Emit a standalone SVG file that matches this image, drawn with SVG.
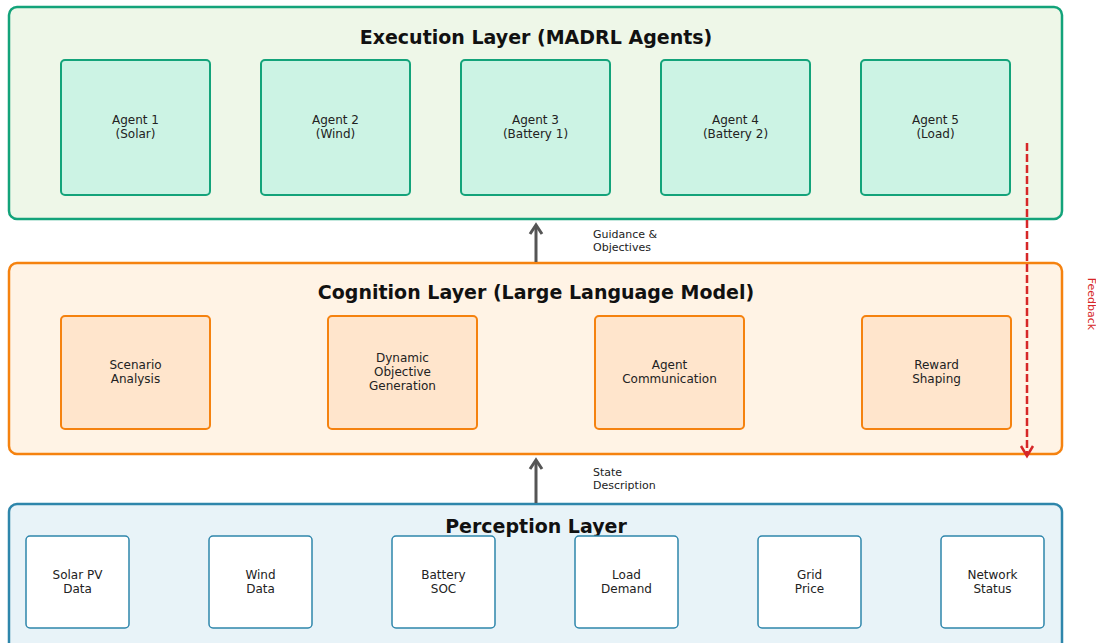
<svg xmlns="http://www.w3.org/2000/svg" width="1096" height="643" viewBox="0 0 1096 643">
<style>
text{font-family:"DejaVu Sans",sans-serif;fill:#222}
.title{font-size:19px;font-weight:bold;text-anchor:middle;fill:#111}
.lbl{font-size:12px;text-anchor:middle}
.side{font-size:11px}
.exec{fill:#eef7e8;stroke:#13a37a;stroke-width:2.5}
.agent{fill:#ccf3e4;stroke:#13a37a;stroke-width:2}
.cog{fill:#fff3e5;stroke:#f5820f;stroke-width:2.5}
.cbox{fill:#ffe5cc;stroke:#f5820f;stroke-width:2}
.per{fill:#e8f3f8;stroke:#2e86ab;stroke-width:2.5}
.pbox{fill:#ffffff;stroke:#2e86ab;stroke-width:1.5}
.arr{stroke:#555;stroke-width:3;fill:none}
</style>
<g id="execution-layer">
<rect class="exec" x="9" y="7" width="1053" height="212" rx="8"/>
<text class="title" x="536" y="44">Execution Layer (MADRL Agents)</text>
</g>
<g id="agent1"><rect class="agent" x="61" y="60" width="149" height="135" rx="4"/><text class="lbl" x="135.5" y="124">Agent 1</text><text class="lbl" x="135.5" y="138">(Solar)</text></g>
<g id="agent2"><rect class="agent" x="261" y="60" width="149" height="135" rx="4"/><text class="lbl" x="335.5" y="124">Agent 2</text><text class="lbl" x="335.5" y="138">(Wind)</text></g>
<g id="agent3"><rect class="agent" x="461" y="60" width="149" height="135" rx="4"/><text class="lbl" x="535.5" y="124">Agent 3</text><text class="lbl" x="535.5" y="138">(Battery 1)</text></g>
<g id="agent4"><rect class="agent" x="661" y="60" width="149" height="135" rx="4"/><text class="lbl" x="735.5" y="124">Agent 4</text><text class="lbl" x="735.5" y="138">(Battery 2)</text></g>
<g id="agent5"><rect class="agent" x="861" y="60" width="149" height="135" rx="4"/><text class="lbl" x="935.5" y="124">Agent 5</text><text class="lbl" x="935.5" y="138">(Load)</text></g>

<g id="cognition-layer">
<rect class="cog" x="9" y="263" width="1053" height="191" rx="8"/>
<text class="title" x="536" y="299">Cognition Layer (Large Language Model)</text>
</g>
<g id="scenario"><rect class="cbox" x="61" y="316" width="149" height="113" rx="4"/><text class="lbl" x="135.5" y="369">Scenario</text><text class="lbl" x="135.5" y="383">Analysis</text></g>
<g id="dynamic"><rect class="cbox" x="328" y="316" width="149" height="113" rx="4"/><text class="lbl" x="402.5" y="362">Dynamic</text><text class="lbl" x="402.5" y="376">Objective</text><text class="lbl" x="402.5" y="390">Generation</text></g>
<g id="agentcomm"><rect class="cbox" x="595" y="316" width="149" height="113" rx="4"/><text class="lbl" x="669.5" y="369">Agent</text><text class="lbl" x="669.5" y="383">Communication</text></g>
<g id="reward"><rect class="cbox" x="862" y="316" width="149" height="113" rx="4"/><text class="lbl" x="936.5" y="369">Reward</text><text class="lbl" x="936.5" y="383">Shaping</text></g>

<g id="perception-layer">
<rect class="per" x="9" y="504" width="1053" height="150" rx="8"/>
<text class="title" x="536" y="533">Perception Layer</text>
</g>
<g id="solarpv"><rect class="pbox" x="26" y="536" width="103" height="92" rx="4"/><text class="lbl" x="77.5" y="579">Solar PV</text><text class="lbl" x="77.5" y="593">Data</text></g>
<g id="wind"><rect class="pbox" x="209" y="536" width="103" height="92" rx="4"/><text class="lbl" x="260.5" y="579">Wind</text><text class="lbl" x="260.5" y="593">Data</text></g>
<g id="battery"><rect class="pbox" x="392" y="536" width="103" height="92" rx="4"/><text class="lbl" x="443.5" y="579">Battery</text><text class="lbl" x="443.5" y="593">SOC</text></g>
<g id="load"><rect class="pbox" x="575" y="536" width="103" height="92" rx="4"/><text class="lbl" x="626.5" y="579">Load</text><text class="lbl" x="626.5" y="593">Demand</text></g>
<g id="grid"><rect class="pbox" x="758" y="536" width="103" height="92" rx="4"/><text class="lbl" x="809.5" y="579">Grid</text><text class="lbl" x="809.5" y="593">Price</text></g>
<g id="network"><rect class="pbox" x="941" y="536" width="103" height="92" rx="4"/><text class="lbl" x="992.5" y="579">Network</text><text class="lbl" x="992.5" y="593">Status</text></g>

<g id="connectors">
<line class="arr" x1="536" y1="262" x2="536" y2="226"/>
<path class="arr" d="M530,234 L536,225 L542,234"/>
<text class="side" x="593" y="238">Guidance &amp;</text>
<text class="side" x="593" y="251">Objectives</text>
<line class="arr" x1="536" y1="503" x2="536" y2="461"/>
<path class="arr" d="M530,469 L536,460 L542,469"/>
<text class="side" x="593" y="476">State</text>
<text class="side" x="593" y="489">Description</text>
<line x1="1027" y1="143" x2="1027" y2="455" stroke="#d62728" stroke-width="2.5" stroke-dasharray="8,3"/>
<path d="M1021,446 L1027,456 L1033,446" fill="none" stroke="#d62728" stroke-width="2.5"/>
<text x="1088" y="304" font-size="11" text-anchor="middle" transform="rotate(90 1088 304)" style="fill:#d62728">Feedback</text>
</g>
</svg>
